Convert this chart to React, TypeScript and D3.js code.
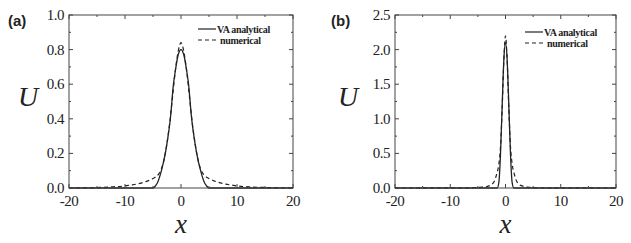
import React from "react";
import * as d3 from "d3";

// panel (a)
const xVaA = [-20, -5, -4.5, -4.2, -3.5, -2.8, -2.4, -1.9, -1.35, -1, -0.5, 0, 0.5, 1, 1.35, 1.9, 2.4, 2.8, 3.5, 4.2, 4.5, 5, 20];
const uVaA = [0, 0, 0.015, 0.03, 0.1, 0.2, 0.28, 0.4, 0.6, 0.68, 0.77, 0.8, 0.77, 0.68, 0.6, 0.4, 0.28, 0.2, 0.1, 0.03, 0.015, 0, 0];
const xNumA = [-20, -15, -12, -10, -9, -8, -7, -6, -5, -4, -3.5, -3, -2.5, -2, -1.5, -1, -0.5, 0, 0.5, 1, 1.5, 2, 2.5, 3, 3.5, 4, 5, 6, 7, 8, 9, 10, 12, 15, 20];
const uNumA = [0.001, 0.003, 0.007, 0.012, 0.017, 0.022, 0.03, 0.04, 0.055, 0.08, 0.11, 0.17, 0.26, 0.38, 0.53, 0.68, 0.79, 0.84, 0.79, 0.68, 0.53, 0.38, 0.26, 0.17, 0.11, 0.08, 0.055, 0.04, 0.03, 0.022, 0.017, 0.012, 0.007, 0.003, 0.001];

// panel (b)
const xVaB = [-20, -1.5, -1.2, -0.9, -0.6, -0.3, 0, 0.3, 0.6, 0.9, 1.2, 1.5, 20];
const uVaB = [0, 0, 0.08, 0.5, 1.2, 1.85, 2.1, 1.85, 1.2, 0.5, 0.08, 0, 0];
const xNumB = [-20, -8, -6, -5, -4, -3, -2.5, -2, -1.6, -1.2, -0.9, -0.6, -0.3, 0, 0.3, 0.6, 0.9, 1.2, 1.6, 2, 2.5, 3, 4, 5, 6, 8, 20];
const uNumB = [0, 0.002, 0.004, 0.007, 0.012, 0.03, 0.05, 0.1, 0.2, 0.35, 0.6, 1.15, 1.85, 2.2, 1.85, 1.15, 0.6, 0.35, 0.2, 0.1, 0.05, 0.03, 0.012, 0.007, 0.004, 0.002, 0];

const xTicks = [-20, -10, 0, 10, 20];
const xMinor = [-15, -5, 5, 15];
const yTicksA = [0, 0.2, 0.4, 0.6, 0.8, 1.0];
const yMinorA = [0.1, 0.3, 0.5, 0.7, 0.9];
const yTicksB = [0, 0.5, 1.0, 1.5, 2.0, 2.5];
const yMinorB = [0.25, 0.75, 1.25, 1.75, 2.25];
const legendLabels = ["VA analytical", "numerical"];

const serif = "'Liberation Serif', 'Times New Roman', serif";
const ink = "#222";
const frame = "#444";

interface PanelProps {
  tag: string;
  left: number;
  right: number;
  top: number;
  bottom: number;
  yMax: number;
  yTicks: number[];
  yMinor: number[];
  va: [number[], number[]];
  num: [number[], number[]];
  legendX: number;
  legendY: number;
  tagX: number;
  uX: number;
}

const Panel: React.FC<PanelProps> = (p) => {
  const x = d3.scaleLinear().domain([-20, 20]).range([p.left, p.right]);
  const y = d3.scaleLinear().domain([0, p.yMax]).range([p.bottom, p.top]);
  const line = d3
    .line<[number, number]>()
    .x((d) => x(d[0]))
    .y((d) => y(d[1]))
    .curve(d3.curveMonotoneX);
  const vaPts = p.va[0].map((v, i) => [v, p.va[1][i]] as [number, number]);
  const numPts = p.num[0].map((v, i) => [v, p.num[1][i]] as [number, number]);
  const major = 4;
  const minor = 2;

  return (
    <g>
      <text x={p.tagX} y={26} fontFamily="'Liberation Sans', Arial, sans-serif" fontWeight="bold" fontSize={15} fill={ink}>
        {p.tag}
      </text>

      {/* curves */}
      <path d={line(numPts) || ""} fill="none" stroke={ink} strokeWidth={1.2} strokeDasharray="4,3" />
      <path d={line(vaPts) || ""} fill="none" stroke={ink} strokeWidth={1.3} />

      {/* frame */}
      <rect x={p.left} y={p.top} width={p.right - p.left} height={p.bottom - p.top} fill="none" stroke={frame} strokeWidth={1} />

      {/* x ticks, bottom and top, inward */}
      {xTicks.map((t) => (
        <g key={"xt" + t}>
          <line x1={x(t)} x2={x(t)} y1={p.bottom} y2={p.bottom - major} stroke={frame} />
          <line x1={x(t)} x2={x(t)} y1={p.top} y2={p.top + major} stroke={frame} />
          <text x={x(t)} y={p.bottom + 18} textAnchor="middle" fontFamily={serif} fontSize={15} fill={ink} letterSpacing={-0.5}>
            {t}
          </text>
        </g>
      ))}
      {xMinor.map((t) => (
        <g key={"xm" + t}>
          <line x1={x(t)} x2={x(t)} y1={p.bottom} y2={p.bottom - minor} stroke={frame} />
          <line x1={x(t)} x2={x(t)} y1={p.top} y2={p.top + minor} stroke={frame} />
        </g>
      ))}

      {/* y ticks, left and right, inward */}
      {p.yTicks.map((t) => (
        <g key={"yt" + t}>
          <line x1={p.left} x2={p.left + major} y1={y(t)} y2={y(t)} stroke={frame} />
          <line x1={p.right} x2={p.right - major} y1={y(t)} y2={y(t)} stroke={frame} />
          <text x={p.left - 5} y={y(t) + 5} textAnchor="end" fontFamily={serif} fontSize={15} fill={ink} letterSpacing={-0.5}>
            {t.toFixed(1)}
          </text>
        </g>
      ))}
      {p.yMinor.map((t) => (
        <g key={"ym" + t}>
          <line x1={p.left} x2={p.left + minor} y1={y(t)} y2={y(t)} stroke={frame} />
          <line x1={p.right} x2={p.right - minor} y1={y(t)} y2={y(t)} stroke={frame} />
        </g>
      ))}

      {/* axis titles */}
      <text x={p.uX} y={106} fontFamily={serif} fontStyle="italic" fontSize={28} fill={ink}>
        U
      </text>
      <text x={(p.left + p.right) / 2} y={233} textAnchor="middle" fontFamily={serif} fontStyle="italic" fontSize={27} fill={ink}>
        x
      </text>

      {/* legend */}
      {legendLabels.map((lab, i) => (
        <g key={lab}>
          <line
            x1={p.legendX}
            x2={p.legendX + 18}
            y1={p.legendY + i * 11}
            y2={p.legendY + i * 11}
            stroke={ink}
            strokeWidth={1.2}
            strokeDasharray={i === 1 ? "4,3" : undefined}
          />
          <text x={p.legendX + 19 + i * 3} y={p.legendY + i * 11 + 3.5} fontFamily={serif} fontWeight="bold" fontSize={10} fill={ink} letterSpacing={-0.3}>
            {lab}
          </text>
        </g>
      ))}
    </g>
  );
};

export default function App() {
  return (
    <svg width={631} height={243} style={{ position: "absolute", left: 0, top: 0, background: "#fff" }}>
      <Panel
        tag="(a)"
        left={69}
        right={293}
        top={15}
        bottom={188}
        yMax={1.0}
        yTicks={yTicksA}
        yMinor={yMinorA}
        va={[xVaA, uVaA]}
        num={[xNumA, uNumA]}
        legendX={198}
        legendY={29}
        tagX={8}
        uX={18}
      />
      <Panel
        tag="(b)"
        left={395}
        right={616}
        top={15}
        bottom={188}
        yMax={2.5}
        yTicks={yTicksB}
        yMinor={yMinorB}
        va={[xVaB, uVaB]}
        num={[xNumB, uNumB]}
        legendX={525}
        legendY={32}
        tagX={331}
        uX={338}
      />
    </svg>
  );
}
